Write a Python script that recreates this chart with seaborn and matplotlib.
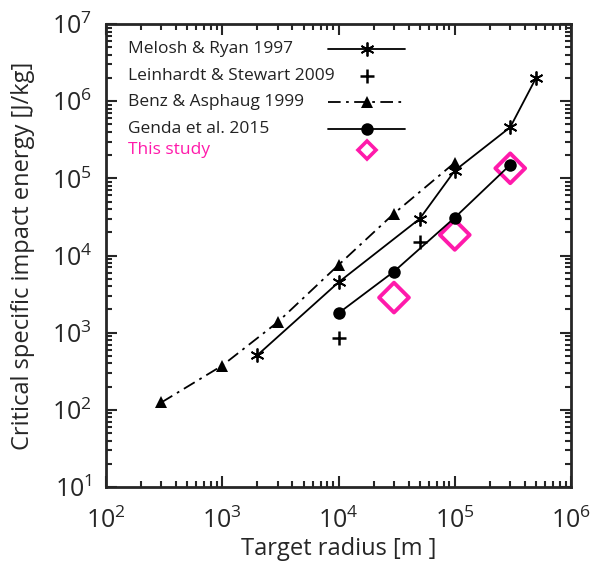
import matplotlib
matplotlib.use("Agg")
import matplotlib.pyplot as plt
from matplotlib.lines import Line2D
import numpy as np
import seaborn as sns

# dati
melosh_r = [2e3, 1e4, 5e4, 1e5, 3e5, 5e5]
melosh_q = [510, 4500, 30000, 1.26e5, 4.6e5, 2.0e6]

leinhardt_r = [1e4, 5e4]
leinhardt_q = [850, 1.5e4]

benz_r = [300, 1e3, 3e3, 1e4, 3e4, 1e5]
benz_q = [125, 375, 1370, 7550, 35000, 1.6e5]

genda_r = [1e4, 3e4, 1e5, 3e5]
genda_q = [1790, 6200, 31000, 1.5e5]

study_r = [3e4, 1e5, 3e5]
study_q = [2850, 18500, 1.35e5]

labels = ["Melosh & Ryan 1997", "Leinhardt & Stewart 2009", "Benz & Asphaug 1999",
          "Genda et al. 2015", "This study"]

pink = "#ff1aab"
dashdot = (0, (7, 3, 1.5, 3))
star = (6, 2, 0)

sns.set_style("ticks")
plt.rcParams["font.family"] = ["Open Sans", "DejaVu Sans"]
plt.rcParams["mathtext.default"] = "regular"

fig = plt.figure(figsize=(5.98, 5.68), dpi=100)
ax = fig.add_axes([0.1773, 0.1426, 0.7776, 0.8151])

sns.lineplot(x=benz_r, y=benz_q, ax=ax, color="black", lw=1.3, marker="^",
             markersize=8, markeredgewidth=0, linestyle=dashdot)
sns.lineplot(x=melosh_r, y=melosh_q, ax=ax, color="black", lw=1.3, marker=star,
             markersize=10, markeredgewidth=1.3, markeredgecolor="black")
sns.lineplot(x=genda_r, y=genda_q, ax=ax, color="black", lw=1.3, marker="o",
             markersize=9, markeredgewidth=0)
sns.scatterplot(x=leinhardt_r, y=leinhardt_q, ax=ax, color="black", marker="+",
                s=90, linewidth=1.8)
sns.scatterplot(x=study_r, y=study_q, ax=ax, marker="D", s=230, facecolor="none",
                edgecolor=pink, linewidth=2.8)

ax.set_xscale("log")
ax.set_yscale("log")
ax.set_xlim(1e2, 1e6)
ax.set_ylim(1e1, 1e7)

for s in ax.spines.values():
    s.set_linewidth(2)
ax.tick_params(which="both", direction="in", top=True, right=True, width=1.5)
ax.tick_params(which="major", length=8, labelsize=18)
ax.tick_params(axis="x", which="major", pad=15)
ax.tick_params(axis="y", which="major", pad=10)
ax.tick_params(which="minor", length=4)
ax.xaxis.set_major_locator(matplotlib.ticker.LogLocator(base=10, numticks=10))
ax.yaxis.set_major_locator(matplotlib.ticker.LogLocator(base=10, numticks=10))
ax.xaxis.set_minor_locator(matplotlib.ticker.LogLocator(base=10, subs=np.arange(2, 10), numticks=20))
ax.yaxis.set_minor_locator(matplotlib.ticker.LogLocator(base=10, subs=np.arange(2, 10), numticks=20))
ax.xaxis.set_minor_formatter(matplotlib.ticker.NullFormatter())
ax.yaxis.set_minor_formatter(matplotlib.ticker.NullFormatter())

ax.set_xlabel("Target radius [m ]", fontsize=17, labelpad=2)
ax.set_ylabel("Critical specific impact energy [J/kg]", fontsize=17, labelpad=12)

# legenda disegnata a mano: testo allineato a sinistra, simboli a destra
handles = [
    dict(color="black", lw=1.3, marker=star, markersize=10, markeredgewidth=1.3),
    dict(color="black", lw=0, marker="+", markersize=10, markeredgewidth=1.8),
    dict(color="black", lw=1.3, marker="^", markersize=8, markeredgewidth=0, linestyle=dashdot),
    dict(color="black", lw=1.3, marker="o", markersize=9, markeredgewidth=0),
    dict(color=pink, lw=0, marker="D", markersize=9, markerfacecolor="none", markeredgewidth=2.6),
]
rows_y = [0.946, 0.888, 0.832, 0.773, 0.728]
for lab, h, yy in zip(labels, handles, rows_y):
    col = pink if lab == "This study" else "#222222"
    ax.text(0.047, yy, lab, transform=ax.transAxes, fontsize=12.5, color=col,
            ha="left", va="center")
    ax.add_line(Line2D([0.478, 0.643], [yy, yy], transform=ax.transAxes, **h,
                       markevery=[]))
    ax.add_line(Line2D([0.561], [yy], transform=ax.transAxes, **h))

fig.savefig("out.png", dpi=100)
